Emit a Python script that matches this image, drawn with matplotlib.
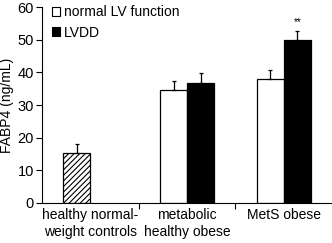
import numpy as np
import matplotlib.pyplot as plt
from matplotlib.patches import Patch

plt.rcParams['font.family'] = ['Liberation Sans', 'DejaVu Sans']
plt.rcParams['hatch.linewidth'] = 0.8

groups = ["healthy normal-\nweight controls", "metabolic\nhealthy obese", "MetS obese"]
controls = [15.4]
controls_err = [2.7]
normal_lv = [34.5, 37.9]
normal_lv_err = [2.9, 2.9]
lvdd = [36.8, 49.9]
lvdd_err = [3.0, 2.8]

fig = plt.figure(figsize=(3.32, 2.43), dpi=100)
ax = fig.add_axes([0.127, 0.165, 0.873, 0.805])

w = 0.28
x = np.arange(len(groups))
err_kw = dict(ecolor='black', elinewidth=0.9, capsize=1.5, capthick=0.9)

ax.bar(x[0] - w / 2, controls, w, yerr=[[0], controls_err], color='white',
       edgecolor='black', linewidth=0.9, hatch='//////', error_kw=err_kw)
ax.bar(x[1:] - w / 2, normal_lv, w, yerr=[[0, 0], normal_lv_err], color='white',
       edgecolor='black', linewidth=0.9, error_kw=err_kw)
ax.bar(x[1:] + w / 2, lvdd, w, yerr=[[0, 0], lvdd_err], color='black',
       edgecolor='black', linewidth=0.9, error_kw=err_kw)

ax.text(x[2] + w / 2, lvdd[1] + lvdd_err[1] + 1.3, "**", ha='center', va='bottom', fontsize=7)

fs = 10
ax.set_xlim(-0.5, 2.5)
ax.set_ylim(0, 60)
ax.set_yticks(range(0, 61, 10))
ax.set_xticks([0.5, 1.5])
ax.set_xticklabels([])
ax.set_xticks(x, minor=True)
ax.set_xticklabels(groups, minor=True, fontsize=fs, linespacing=1.3)
ax.tick_params(axis='x', which='minor', length=0, pad=3.5)
ax.tick_params(axis='x', which='major', direction='out', length=4, width=0.8)
ax.tick_params(axis='y', direction='out', length=4, width=0.8, labelsize=10.5, pad=2)
ax.set_ylabel("FABP4 (ng/mL)", fontsize=fs)
ax.yaxis.set_label_coords(-0.096, 0.5)
for s in ['top', 'right']:
    ax.spines[s].set_visible(False)
for s in ['left', 'bottom']:
    ax.spines[s].set_linewidth(0.8)

handles = [Patch(facecolor='white', edgecolor='black', linewidth=0.8),
           Patch(facecolor='black', edgecolor='black', linewidth=0.8)]
ax.legend(handles, ["normal LV function", "LVDD"], loc='upper left',
          bbox_to_anchor=(0.034, 1.01), frameon=False, fontsize=fs, borderpad=0,
          borderaxespad=0, handlelength=0.55, handleheight=0.55, handletextpad=0.3,
          labelspacing=0.45)

fig.savefig("out.png", dpi=100)
